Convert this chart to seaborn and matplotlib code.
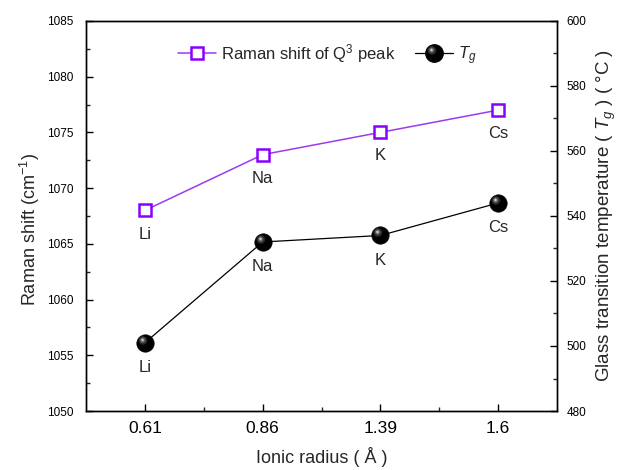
import numpy as np
import pandas as pd
import matplotlib
matplotlib.use("Agg")
import matplotlib.pyplot as plt
from matplotlib.path import Path
from matplotlib.lines import Line2D
from matplotlib.legend_handler import HandlerTuple
import seaborn as sns

# Ionic radius categories (Å) and the alkali cation for each
radius_labels = ["0.61", "0.86", "1.39", "1.6"]
cations = ["Li", "Na", "K", "Cs"]

# Raman shift of the Q3 peak (cm^-1)
raman_shift = [1068, 1073, 1075, 1077]
# Glass transition temperature Tg (°C)
tg_values = [501, 532, 534, 544]

sns.set_theme(style="ticks")
plt.rcParams["font.family"] = ["Liberation Sans", "DejaVu Sans"]
plt.rcParams["mathtext.fontset"] = "custom"
plt.rcParams["mathtext.rm"] = "Liberation Sans"
plt.rcParams["mathtext.it"] = "Liberation Sans:italic"

purple_edge = "#8A00FF"
purple_line = "#9B3BF0"
SPHERE = 12.5

df = pd.DataFrame({
    "pos": np.arange(len(radius_labels)),
    "raman": raman_shift,
    "tg": tg_values,
})

fig = plt.figure(figsize=(6.19, 4.70), dpi=100)
ax = fig.add_axes([0.139, 0.1255, 0.761, 0.830])
ax2 = ax.twinx()

sns.lineplot(data=df, x="pos", y="raman", ax=ax, color=purple_line, lw=1.1,
             marker="s", markersize=8, markerfacecolor="white",
             markeredgecolor=purple_edge, markeredgewidth=1.8, zorder=3)

sns.lineplot(data=df, x="pos", y="tg", ax=ax2, color="black", lw=0.9,
             marker="o", markersize=SPHERE, markerfacecolor="black",
             markeredgecolor="black", markeredgewidth=0.5, zorder=3)


def highlight_marker(cx, cy, r):
    """Small off-centre disc, anchored so it scales with a circle marker."""
    circ = Path.circle((cx, cy), r)
    verts = np.vstack([[[1, 1]], [[-1, -1]], circ.vertices])
    codes = np.concatenate([[Path.MOVETO, Path.MOVETO], circ.codes])
    return Path(verts, codes)


shine_layers = [
    (highlight_marker(-0.30, 0.35, 0.50), "#2a2a2a"),
    (highlight_marker(-0.32, 0.38, 0.32), "#5c5c5c"),
    (highlight_marker(-0.34, 0.40, 0.17), "#a8a8a8"),
    (highlight_marker(-0.35, 0.41, 0.07), "#eeeeee"),
]
for path, col in shine_layers:
    ax2.plot(df["pos"], df["tg"], ls="none", marker=path, markersize=SPHERE,
             markerfacecolor=col, markeredgewidth=0, zorder=4)

ax.set_xlim(-0.5, 3.5)
ax.set_ylim(1050, 1085)
ax2.set_ylim(480, 600)

ax.set_xticks(df["pos"])
ax.set_xticklabels(radius_labels)
ax.set_xticks([0.5, 1.5, 2.5], minor=True)
ax.set_yticks(np.arange(1050, 1086, 5))
ax.set_yticks(np.arange(1052.5, 1085, 5), minor=True)
ax2.set_yticks(np.arange(480, 601, 20))
ax2.set_yticks(np.arange(490, 600, 20), minor=True)

for a in (ax, ax2):
    a.tick_params(which="major", direction="in", length=5, width=1,
                  labelsize=8.5, colors="black")
    a.tick_params(which="minor", direction="in", length=3, width=1)
    for s in a.spines.values():
        s.set_linewidth(1.0)
        s.set_color("black")
ax.tick_params(axis="y", which="major", pad=9)
ax2.tick_params(axis="y", which="major", pad=7)
ax.tick_params(axis="x", which="major", pad=7, labelsize=12.5)

ax.set_xlabel("Ionic radius ( Å )", fontsize=13, labelpad=8)
ax.set_ylabel("Raman shift (cm$^{-1}$)", fontsize=13)
ax.yaxis.set_label_coords(-0.093, 0.464)
ax2.set_ylabel("Glass transition temperature ( $\\mathit{T}_{g}$ ) ( °C )",
               fontsize=13.5, labelpad=6)
ax2.set_xlabel("")

# Cation names below each point
for x, y, name in zip(df["pos"], df["raman"], cations):
    ax.annotate(name, (x, y), xytext=(0, -17), textcoords="offset points",
                ha="center", va="center", fontsize=12)
for x, y, name in zip(df["pos"], df["tg"], cations):
    ax2.annotate(name, (x, y), xytext=(0, -18), textcoords="offset points",
                 ha="center", va="center", fontsize=12)

h_raman = Line2D([], [], color=purple_line, lw=1.1, marker="s", markersize=8,
                 markerfacecolor="white", markeredgecolor=purple_edge,
                 markeredgewidth=1.8)
h_tg = [Line2D([], [], color="black", lw=0.9, marker="o", markersize=SPHERE,
               markerfacecolor="black", markeredgecolor="black")]
for path, col in shine_layers:
    h_tg.append(Line2D([], [], ls="none", marker=path, markersize=SPHERE,
                       markerfacecolor=col, markeredgewidth=0))

leg = ax.legend([h_raman, tuple(h_tg)],
                ["Raman shift of Q$^{3}$ peak", "$\\mathit{T}_{g}$"],
                handler_map={tuple: HandlerTuple(ndivide=1)},
                loc="upper center", bbox_to_anchor=(0.512, 0.985), ncol=2,
                frameon=False, fontsize=12, handlelength=2.3,
                columnspacing=1.15, handletextpad=0.3)

fig.savefig("out.png", dpi=100)
